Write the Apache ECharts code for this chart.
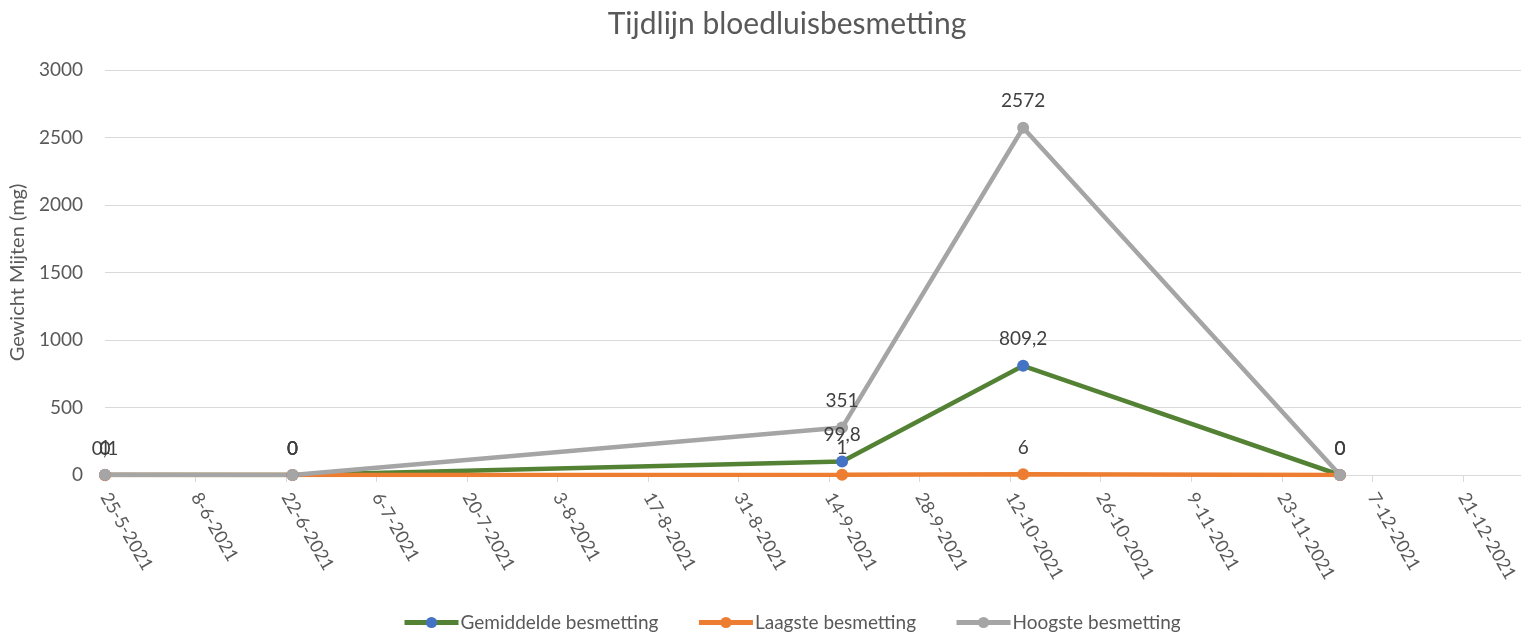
<!DOCTYPE html>
<html>
<head>
<meta charset="utf-8">
<script src="https://cdn.jsdelivr.net/npm/echarts@6/dist/echarts.min.js"></script>
<style>
  html, body { margin: 0; padding: 0; background: #fff; }
  #chart { width: 1521px; height: 637px; }
</style>
</head>
<body>
<div id="chart"></div>
<script>
const START = Date.UTC(2021, 4, 25);
const DAY = 86400000;

// meetdata
const dates = ['25-5-2021', '23-6-2021', '16-9-2021', '14-10-2021', '2-12-2021'];
const gemiddelde = [0.1, 0, 99.8, 809.2, 0];
const laagste = [0, 0, 1, 6, 0];
const hoogste = [1, 0, 351, 2572, 0];

// as-labels, elke 14 dagen
const tickLabels = ['25-5-2021', '8-6-2021', '22-6-2021', '6-7-2021', '20-7-2021', '3-8-2021',
  '17-8-2021', '31-8-2021', '14-9-2021', '28-9-2021', '12-10-2021', '26-10-2021',
  '9-11-2021', '23-11-2021', '7-12-2021', '21-12-2021'];

const GREY_TEXT = '#595959';
const FONT = 'Lato';

function dayOffset(str) {
  const [d, m, y] = str.split('-').map(Number);
  return Math.round((Date.UTC(y, m - 1, d) - START) / DAY);
}

const withDates = vals => vals.map((v, i) => [dayOffset(dates[i]), v]);
const nlNumber = v => String(v).replace('.', ',');

function makeSeries(name, vals, lineColor, dotColor) {
  return {
    name,
    type: 'line',
    symbol: 'circle',
    symbolSize: 12,
    itemStyle: { color: dotColor },
    lineStyle: { width: 4.5, color: lineColor },
    label: {
      show: true,
      position: 'top',
      distance: 11,
      color: '#404040',
      fontSize: 19,
      fontFamily: FONT,
      formatter: p => nlNumber(p.value[1])
    },
    data: withDates(vals)
  };
}

const chart = echarts.init(document.getElementById('chart'));

chart.setOption({
  animation: false,
  textStyle: { fontFamily: FONT },
  title: {
    text: 'Tijdlijn bloedluisbesmetting',
    left: 782,
    top: 4,
    textAlign: 'center',
    textStyle: { fontSize: 30, fontWeight: 'normal', color: GREY_TEXT, fontFamily: FONT }
  },
  grid: { left: 105, right: 0, top: 70, bottom: 162, containLabel: false },
  legend: {
    bottom: 0,
    left: 397,
    itemWidth: 54,
    itemHeight: 14,
    itemGap: 38,
    lineStyle: { width: 5 },
    textStyle: { fontSize: 19, color: GREY_TEXT, fontFamily: FONT, padding: [0, 0, 0, -3] },
    data: ['Gemiddelde besmetting', 'Laagste besmetting', 'Hoogste besmetting']
  },
  xAxis: {
    type: 'value',
    min: 0,
    max: 219,
    interval: 14,
    splitLine: { show: false },
    axisLine: { lineStyle: { color: '#d9d9d9', width: 1 } },
    axisTick: { show: true, length: 7, lineStyle: { color: '#d9d9d9' } },
    axisLabel: {
      rotate: -60,
      margin: 19,
      fontSize: 18,
      color: GREY_TEXT,
      showMaxLabel: false,
      formatter: v => tickLabels[Math.round(v / 14)] || ''
    }
  },
  yAxis: {
    type: 'value',
    min: 0,
    max: 3000,
    interval: 500,
    name: 'Gewicht Mijten (mg)',
    nameLocation: 'middle',
    nameGap: 74,
    nameTextStyle: { fontSize: 20, color: GREY_TEXT, fontFamily: FONT },
    axisLine: { show: false },
    axisTick: { show: false },
    splitLine: { lineStyle: { color: '#d9d9d9', width: 1 } },
    axisLabel: { fontSize: 19, color: GREY_TEXT, margin: 22, formatter: v => String(v) }
  },
  series: [
    makeSeries('Gemiddelde besmetting', gemiddelde, '#548235', '#4472C4'),
    makeSeries('Laagste besmetting', laagste, '#ED7D31', '#ED7D31'),
    makeSeries('Hoogste besmetting', hoogste, '#A5A5A5', '#A5A5A5')
  ]
});
</script>
</body>
</html>
